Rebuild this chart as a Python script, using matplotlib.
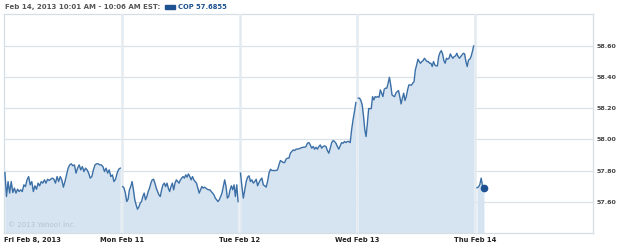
import numpy as np
import matplotlib
matplotlib.use("Agg")
import matplotlib.pyplot as plt

# ---- data (COP intraday, 5-min) ----
day_labels = ["Fri Feb 8, 2013", "Mon Feb 11", "Tue Feb 12", "Wed Feb 13", "Thu Feb 14"]
y_ticks = [57.60, 57.80, 58.00, 58.20, 58.40, 58.60]

fri = [57.788, 57.634, 57.730, 57.656, 57.730, 57.660, 57.688, 57.656, 57.681, 57.666, 57.677, 57.666,
       57.709, 57.698, 57.741, 57.762, 57.709, 57.730, 57.666, 57.703, 57.681, 57.720, 57.703, 57.730,
       57.720, 57.741, 57.720, 57.745, 57.737, 57.745, 57.752, 57.745, 57.720, 57.762, 57.730, 57.762,
       57.741, 57.694, 57.730, 57.773, 57.816, 57.837, 57.844, 57.831, 57.837, 57.784, 57.816, 57.837,
       57.805, 57.826, 57.794, 57.816, 57.805, 57.784, 57.752, 57.762, 57.805, 57.837, 57.844, 57.844,
       57.837, 57.837, 57.826, 57.794, 57.816, 57.784, 57.805, 57.762, 57.773, 57.730, 57.745, 57.784,
       57.809, 57.816]
mon = [57.698, 57.688, 57.656, 57.602, 57.617, 57.677, 57.698, 57.730, 57.677, 57.613, 57.581, 57.553,
       57.566, 57.591, 57.602, 57.634, 57.656, 57.613, 57.634, 57.666, 57.688, 57.720, 57.741, 57.745,
       57.720, 57.688, 57.666, 57.645, 57.634, 57.677, 57.709, 57.720, 57.698, 57.720, 57.688, 57.666,
       57.698, 57.720, 57.677, 57.720, 57.741, 57.730, 57.720, 57.741, 57.752, 57.762, 57.752, 57.773,
       57.758, 57.779, 57.762, 57.741, 57.762, 57.741, 57.730, 57.720, 57.688, 57.656, 57.677, 57.698,
       57.688, 57.694, 57.688, 57.681, 57.677, 57.677, 57.666, 57.656, 57.645, 57.624, 57.613, 57.602,
       57.613, 57.634, 57.656, 57.698, 57.741, 57.698, 57.624, 57.634, 57.677, 57.703, 57.677, 57.709,
       57.634, 57.709, 57.602]
tue = [57.784, 57.698, 57.624, 57.677, 57.730, 57.758, 57.767, 57.730, 57.741, 57.720, 57.730, 57.745,
       57.703, 57.724, 57.741, 57.752, 57.709, 57.703, 57.694, 57.730, 57.784, 57.809, 57.801, 57.801,
       57.801, 57.801, 57.805, 57.837, 57.865, 57.859, 57.852, 57.852, 57.874, 57.880, 57.880, 57.912,
       57.923, 57.933, 57.929, 57.938, 57.938, 57.940, 57.944, 57.948, 57.950, 57.950, 57.955, 57.976,
       57.980, 57.965, 57.944, 57.955, 57.938, 57.950, 57.938, 57.955, 57.965, 57.944, 57.955, 57.959,
       57.955, 57.929, 57.912, 57.944, 57.980, 57.993, 57.987, 57.976, 57.955, 57.938, 57.959, 57.980,
       57.976, 57.987, 57.980, 57.987, 57.987, 57.980, 58.062, 58.126, 58.179, 58.237]
wed = [58.265, 58.265, 58.250, 58.222, 58.151, 58.062, 58.019, 58.104, 58.198, 58.198, 58.198, 58.275,
       58.254, 58.275, 58.271, 58.275, 58.271, 58.318, 58.297, 58.275, 58.322, 58.329, 58.329, 58.361,
       58.399, 58.350, 58.286, 58.279, 58.275, 58.297, 58.307, 58.314, 58.275, 58.228, 58.265, 58.297,
       58.250, 58.275, 58.318, 58.350, 58.350, 58.348, 58.361, 58.371, 58.446, 58.478, 58.515, 58.500,
       58.489, 58.500, 58.506, 58.521, 58.510, 58.500, 58.500, 58.489, 58.489, 58.468, 58.500, 58.478,
       58.472, 58.472, 58.532, 58.557, 58.570, 58.549, 58.506, 58.489, 58.521, 58.515, 58.521, 58.549,
       58.532, 58.521, 58.532, 58.536, 58.553, 58.532, 58.521, 58.532, 58.542, 58.553, 58.549, 58.500,
       58.468, 58.510, 58.515, 58.532, 58.564, 58.600]
thu = [57.690, 57.695, 57.710, 57.752, 57.700, 57.6855]

days = [fri, mon, tue, wed]
DAY = 390  # trading minutes per day

LINE = "#3b6fa6"
FILL = "#d5e4f0"
GRID = "#d9e1e9"
VGRID = "#e3eaf0"

fig = plt.figure(figsize=(6.25, 2.46), dpi=100)
ax = fig.add_axes([4 / 625, 13 / 246, 589 / 625, 219 / 246])
ymin, ymax = 57.40, 58.805
ax.set_xlim(0, 5 * DAY)
ax.set_ylim(ymin, ymax)

for yv in y_ticks:
    ax.axhline(yv, color=GRID, lw=0.9, zorder=1)

for i, vals in enumerate(days):
    t = np.linspace(i * DAY + 3, i * DAY + 385, len(vals))
    ax.fill_between(t, ymin, vals, color=FILL, lw=0, zorder=2)
    ax.plot(t, vals, color=LINE, lw=1.0, zorder=4)

t_thu = np.linspace(4 * DAY + 6, 4 * DAY + 29, len(thu))
ax.fill_between(t_thu, ymin, thu, color=FILL, lw=0, zorder=2)
ax.plot(t_thu, thu, color=LINE, lw=1.0, zorder=4)
ax.plot(t_thu[-1], thu[-1], "o", color="#1d5190", ms=4.5, zorder=5)

for i in range(1, 5):
    ax.axvline(i * DAY, color=VGRID, lw=1.8, zorder=3)

for s in ax.spines.values():
    s.set_color("#d5dde5")
    s.set_linewidth(0.9)

ax.yaxis.tick_right()
ax.set_yticks(y_ticks)
ax.set_yticklabels([f"{v:.2f}" for v in y_ticks], fontsize=4.6, fontweight="bold", color="#444444")
ax.tick_params(axis="y", length=0, pad=2.5)

ax.set_xticks([i * DAY for i in range(5)])
ax.set_xticklabels(day_labels, fontsize=4.9, fontweight="bold", color="#222222")
ax.tick_params(axis="x", length=0, pad=3)
ax.get_xticklabels()[0].set_ha("left")

ax.text(0.007, 0.025, "\u00a9 2013 Yahoo! Inc.", transform=ax.transAxes, fontsize=5.0,
        color="#b4c4d2", ha="left", va="bottom", zorder=6)

fig.text(5 / 625, 1 - 7 / 246, "Feb 14, 2013 10:01 AM - 10:06 AM EST:", fontsize=5.05,
         fontweight="bold", color="#555555", ha="left", va="center")
fig.patches.append(matplotlib.patches.Rectangle((165 / 625, 1 - 8.5 / 246), 10 / 625, 3 / 246,
                                                transform=fig.transFigure, color="#1d5190"))
fig.text(178 / 625, 1 - 7 / 246, "COP 57.6855", fontsize=4.9, fontweight="bold",
         color="#1d5190", ha="left", va="center")

fig.savefig("out.png", dpi=100)
